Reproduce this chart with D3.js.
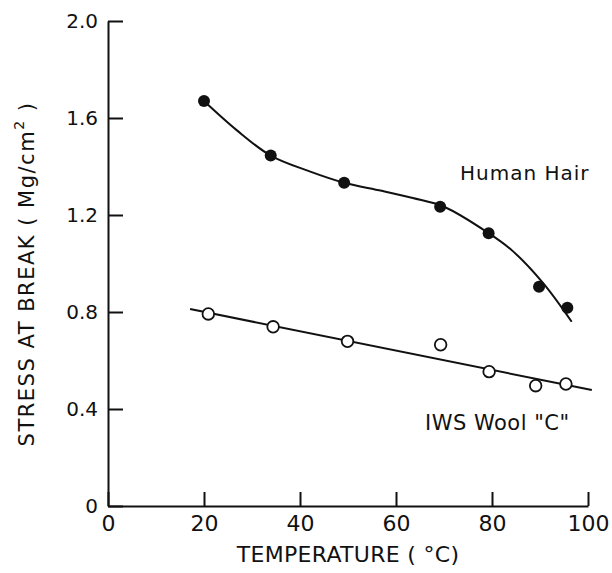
<!DOCTYPE html>
<html><head><meta charset="utf-8">
<script src="https://cdn.jsdelivr.net/npm/d3@7"></script>
<style>
body{margin:0;background:#fff;}
svg text{font-family:"DejaVu Sans",sans-serif;fill:#111;}
</style></head>
<body><svg id="c" width="612" height="573"></svg>
<script>
// Data
const hairTemp   = [20, 33.9, 49.2, 69.2, 79.3, 89.8, 95.7];
const hairStress = [1.670, 1.445, 1.333, 1.234, 1.125, 0.904, 0.818];
const woolTemp   = [20.9, 34.4, 49.9, 69.3, 79.4, 89.1, 95.4];
const woolStress = [0.792, 0.739, 0.679, 0.665, 0.554, 0.496, 0.503];
// Hand-drawn fit curves
const hairFitTemp   = [20, 26.8, 33.9, 42, 49.2, 57, 63.5, 70, 79.3, 84.4, 90.7, 96.6];
const hairFitStress = [1.670, 1.55, 1.445, 1.38, 1.333, 1.30, 1.27, 1.234, 1.125, 1.05, 0.918, 0.76];
const woolFitTemp   = [17.1, 100.8];
const woolFitStress = [0.812, 0.478];
const xTicks = [0, 20, 40, 60, 80, 100];
const yTicks = [0, 0.4, 0.8, 1.2, 1.6, 2.0];
const yTickLabels = ["0", "0.4", "0.8", "1.2", "1.6", "2.0"];

const svg = d3.select("#c");
const x = d3.scaleLinear().domain([0, 100]).range([108, 588]);
const y = d3.scaleLinear().domain([0, 2.0]).range([506, 21]);

const xAxis = d3.axisBottom(x).tickValues(xTicks).tickSizeInner(-14).tickSizeOuter(0).tickPadding(9).tickFormat(d3.format("d"));
const yAxis = d3.axisLeft(y).tickValues(yTicks).tickSizeInner(-15).tickSizeOuter(0).tickPadding(10).tickFormat((d,i)=>yTickLabels[i]);

const gx = svg.append("g").attr("transform", `translate(0,${y(0)})`).call(xAxis);
const gy = svg.append("g").attr("transform", `translate(${x(0)},0)`).call(yAxis);
[gx, gy].forEach(g => {
  g.attr("font-family", "DejaVu Sans, sans-serif");
  g.select(".domain").attr("stroke", "#111").attr("stroke-width", 2);
  g.selectAll(".tick line").attr("stroke", "#111").attr("stroke-width", 2);
  g.selectAll(".tick text").attr("fill", "#111");
});
gx.attr("font-size", 22);
gy.attr("font-size", 20);

// fit lines
svg.append("path").datum(hairFitTemp.map((t,i)=>[t, hairFitStress[i]]))
  .attr("d", d3.line().x(d => x(d[0])).y(d => y(d[1])).curve(d3.curveCatmullRom.alpha(0.5)))
  .attr("fill", "none").attr("stroke", "#111").attr("stroke-width", 2);
svg.append("path").datum(woolFitTemp.map((t,i)=>[t, woolFitStress[i]]))
  .attr("d", d3.line().x(d => x(d[0])).y(d => y(d[1])))
  .attr("fill", "none").attr("stroke", "#111").attr("stroke-width", 2);

// markers
svg.selectAll("circle.hair").data(hairTemp.map((t,i)=>[t, hairStress[i]])).join("circle")
  .attr("class","hair").attr("cx", d=>x(d[0])).attr("cy", d=>y(d[1])).attr("r", 6)
  .attr("fill", "#111");
svg.selectAll("circle.wool").data(woolTemp.map((t,i)=>[t, woolStress[i]])).join("circle")
  .attr("class","wool").attr("cx", d=>x(d[0])).attr("cy", d=>y(d[1])).attr("r", 5.8)
  .attr("fill", "#fff").attr("stroke", "#111").attr("stroke-width", 1.8);

// labels
svg.append("text").attr("x", 460).attr("y", 180).attr("font-size", 20).attr("letter-spacing", 1).text("Human Hair");
svg.append("text").attr("x", 425).attr("y", 430).attr("font-size", 21).attr("letter-spacing", 0.5).text("IWS  Wool \"C\"");

// axis titles
svg.append("text").attr("x", 348).attr("y", 562).attr("text-anchor", "middle").attr("font-size", 22).attr("letter-spacing", 0.3).text("TEMPERATURE ( °C)");
const yt = svg.append("text").attr("transform", "translate(34,274) rotate(-90)").attr("text-anchor", "middle").attr("font-size", 21).attr("letter-spacing", 1.5);
yt.append("tspan").text("STRESS AT BREAK ( Mg/cm");
yt.append("tspan").attr("font-size", 14).attr("dy", -10).text("2");
yt.append("tspan").attr("dy", 10).text(" )");
</script></body></html>
